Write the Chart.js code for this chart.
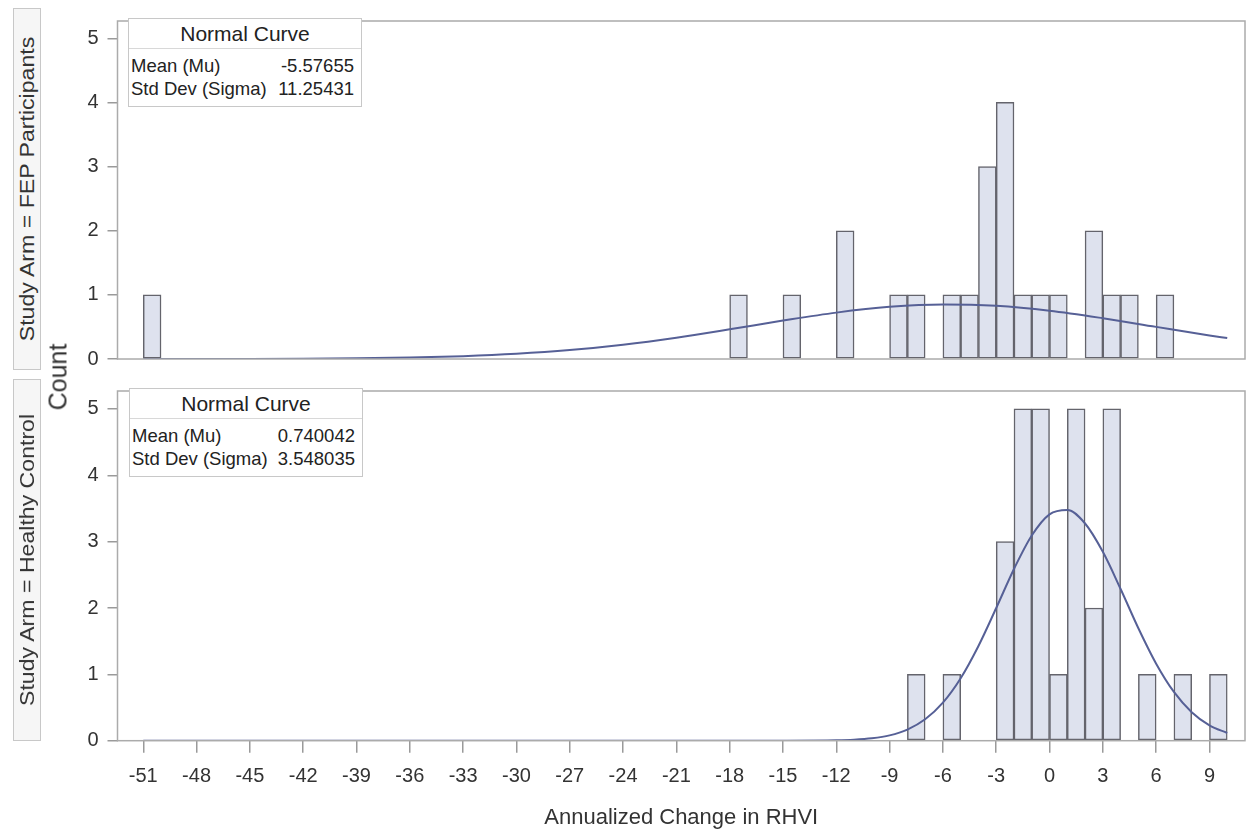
<!DOCTYPE html>
<html>
<head>
<meta charset="utf-8">
<script src="https://cdn.jsdelivr.net/npm/chart.js@4.4.0/dist/chart.umd.min.js"></script>
<style>
  body { margin: 0; background: #fff; font-family: "Liberation Sans", Arial, sans-serif; color: #333; }
  #wrap { position: relative; width: 1247px; height: 835px; overflow: hidden; }
  canvas { position: absolute; left: 0; }
  .strip { position: absolute; left: 13px; width: 28px; height: 362px; background: #f6f6f6; border: 1px solid #c8c8c8; box-sizing: border-box; }
  .strip span, .count { position: absolute; left: 50%; top: 50%; white-space: nowrap; transform: translate(-50%, -50%) rotate(-90deg); }
  .strip span { font-size: 21px; color: #333; transform: translate(-50%, -50%) rotate(-90deg) scaleX(1.1); }
  .count { font-size: 25px; color: #333; left: 58px; top: 377px; }
  .legend { position: absolute; width: 234px; height: 89px; background: #fff; border: 1px solid #c8c8c8; box-sizing: border-box; }
  .legend .head { height: 29px; line-height: 29px; text-align: center; font-size: 21px; color: #222; border-bottom: 1px solid #d8d8d8; }
  .legend .row { display: flex; justify-content: space-between; font-size: 18.5px; height: 23px; line-height: 23px; padding: 0 7px 0 2px; color: #222; }
  .legend .rows { padding-top: 5px; }
</style>
</head>
<body>
<div id="wrap">
  <canvas id="topChart" width="1247" height="380" style="top:0"></canvas>
  <canvas id="bottomChart" width="1247" height="465" style="top:370px"></canvas>

  <div class="strip" style="top:8px"><span>Study Arm = FEP Participants</span></div>
  <div class="strip" style="top:379px"><span>Study Arm = Healthy Control</span></div>
  <div class="count">Count</div>

  <div class="legend" style="left:128px; top:18px">
    <div class="head">Normal Curve</div>
    <div class="rows">
      <div class="row"><span>Mean (Mu)</span><span id="fepMean"></span></div>
      <div class="row"><span>Std Dev (Sigma)</span><span id="fepSd"></span></div>
    </div>
  </div>
  <div class="legend" style="left:129px; top:388px">
    <div class="head">Normal Curve</div>
    <div class="rows">
      <div class="row"><span>Mean (Mu)</span><span id="hcMean"></span></div>
      <div class="row"><span>Std Dev (Sigma)</span><span id="hcSd"></span></div>
    </div>
  </div>
</div>

<script>
// axis ticks
const xTicks = [-51, -48, -45, -42, -39, -36, -33, -30, -27, -24, -21, -18, -15, -12, -9, -6, -3, 0, 3, 6, 9];
const yTicks = [0, 1, 2, 3, 4, 5];

// histogram bins (left edge of each 1-unit bin) and counts
const fepBins   = [-51, -18, -15, -12, -9, -8, -6, -5, -4, -3, -2, -1, 0, 2, 3, 4, 6];
const fepCounts = [1, 1, 1, 2, 1, 1, 1, 1, 3, 4, 1, 1, 1, 2, 1, 1, 1];
const hcBins    = [-8, -6, -3, -2, -1, 0, 1, 2, 3, 5, 7, 9];
const hcCounts  = [1, 1, 3, 5, 5, 1, 5, 2, 5, 1, 1, 1];

// normal curve
const fepCurveX = [-51, -48, -45, -42, -39, -36, -33, -30, -27, -24, -21, -18, -15, -12, -9, -6, -3, 0, 3, 6, 9, 10];
const fepCurveY = [0.0002, 0.0007, 0.0018, 0.0045, 0.0104, 0.022, 0.044, 0.081, 0.139, 0.223, 0.333, 0.463, 0.599, 0.723, 0.813, 0.851, 0.829, 0.753, 0.636, 0.501, 0.368, 0.327];
const hcCurveX = [-51, -45, -39, -33, -27, -21, -18, -15, -12, -11, -10, -9, -8, -7, -6, -5, -4, -3, -2, -1, 0, 1, 2, 3, 4, 5, 6, 7, 8, 9, 10];
const hcCurveY = [0, 0, 0, 0, 0, 0, 0, 0.0002, 0.0055, 0.0147, 0.036, 0.080, 0.168, 0.323, 0.574, 0.942, 1.428, 2.000, 2.588, 3.092, 3.411, 3.477, 3.273, 2.846, 2.286, 1.695, 1.161, 0.735, 0.430, 0.232, 0.116];

// fit stats shown in the inset tables
const fepStats = ["-5.57655", "11.25431"];
const hcStats  = ["0.740042", "3.548035"];

document.getElementById('fepMean').textContent = fepStats[0];
document.getElementById('fepSd').textContent = fepStats[1];
document.getElementById('hcMean').textContent = hcStats[0];
document.getElementById('hcSd').textContent = hcStats[1];

const barFill = 'rgb(222, 226, 238)';
const barLine = 'rgb(100, 100, 108)';
const curveColor = 'rgb(86, 96, 150)';
const frameColor = '#ababab';
const tickFont = { family: 'Liberation Sans, Arial, sans-serif', size: 20 };

// draws the box round the plot area
const framePlugin = {
  id: 'frame',
  afterDraw(chart) {
    const a = chart.chartArea;
    const c = chart.ctx;
    c.save();
    c.strokeStyle = frameColor;
    c.lineWidth = 1.5;
    c.strokeRect(a.left, a.top, a.right - a.left, a.bottom - a.top);
    c.restore();
  }
};

function makeConfig(bins, counts, curveX, curveY, showX) {
  return {
    type: 'bar',
    data: {
      datasets: [{
        type: 'line',
        data: curveX.map((x, i) => ({ x: x, y: curveY[i] })),
        borderColor: curveColor,
        borderWidth: 2,
        pointRadius: 0,
        cubicInterpolationMode: 'monotone',
        order: 0,
      }, {
        data: bins.map((b, i) => ({ x: b + 0.5, y: counts[i] })),
        backgroundColor: barFill,
        borderColor: barLine,
        borderWidth: 1.5,
        borderSkipped: false,
        categoryPercentage: 1,
        barPercentage: 1,
        order: 1,
      }]
    },
    options: {
      responsive: false,
      animation: false,
      events: [],
      layout: {
        padding: showX ? { left: 0, right: 2, top: 9, bottom: 0 } : { left: 0, right: 2, top: 8, bottom: 9.5 }
      },
      plugins: {
        legend: { display: false },
        tooltip: { enabled: false },
      },
      scales: {
        x: {
          type: 'linear',
          display: showX,
          offset: false,
          min: -52.45,
          max: 11,
          afterBuildTicks: (s) => { s.ticks = xTicks.map(v => ({ value: v })); },
          afterFit: (s) => { if (showX) s.height = 94.3; },
          border: { display: false },
          grid: { offset: false, drawOnChartArea: false, drawTicks: true, tickLength: 12, color: '#9a9a9a', lineWidth: 1.5 },
          ticks: { font: tickFont, color: '#333', padding: 12, maxRotation: 0, autoSkip: false },
          title: {
            display: true,
            text: 'Annualized Change in RHVI',
            font: { family: 'Liberation Sans, Arial, sans-serif', size: 22 },
            color: '#333',
            padding: { top: 0, bottom: 4 },
          },
        },
        y: {
          min: 0,
          max: 5.27,
          afterBuildTicks: (s) => { s.ticks = yTicks.map(v => ({ value: v })); },
          afterFit: (s) => { s.width = 117.5; },
          border: { display: false },
          grid: { drawOnChartArea: false, drawTicks: true, tickLength: 10, color: '#9a9a9a', lineWidth: 1.5 },
          ticks: { font: tickFont, color: '#333', padding: 9 },
        }
      }
    },
    plugins: [framePlugin],
  };
}

const topChart = new Chart(document.getElementById('topChart').getContext('2d'),
  makeConfig(fepBins, fepCounts, fepCurveX, fepCurveY, false));
const bottomChart = new Chart(document.getElementById('bottomChart').getContext('2d'),
  makeConfig(hcBins, hcCounts, hcCurveX, hcCurveY, true));
</script>
</body>
</html>
